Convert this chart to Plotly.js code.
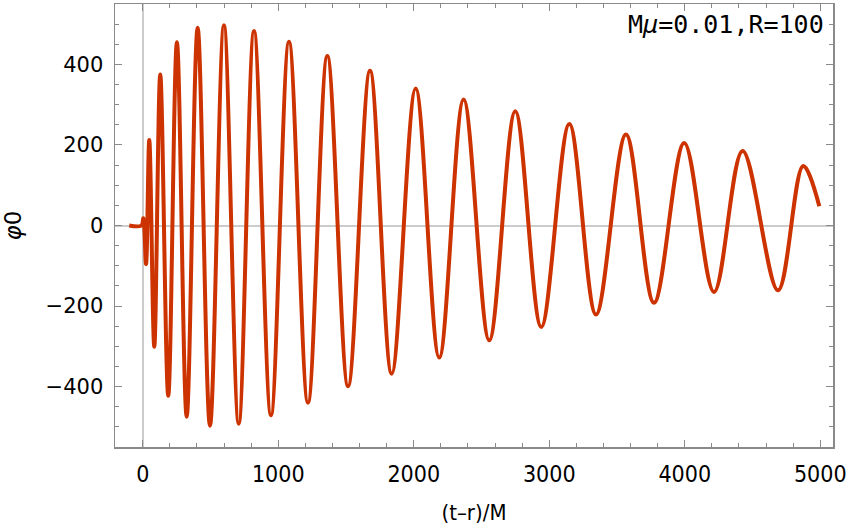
<!DOCTYPE html>
<html>
<head>
<meta charset="utf-8">
<script src="https://cdn.plot.ly/plotly-3.0.1.min.js"></script>
<style>html,body{margin:0;padding:0;background:#fff;}#chart{width:852px;height:530px;}</style>
</head>
<body>
<div id="chart"></div>
<script>
// Time (t-r)/M of the curve's turning points
const timeVals = [-100, -10, 4, 24, 48, 85, 129, 188, 252, 324, 405, 496, 599, 708, 821, 946, 1079, 1219, 1362, 1515, 1677, 1837, 2014, 2188, 2368, 2557, 2749, 2941, 3148, 3345, 3566, 3773, 3996, 4216, 4427, 4688, 4874, 4993];
// phi_0 values at those times
const phiVals = [0, 0, 18, -96, 212, -301, 375, -423, 455, -475, 491, -497, 497, -492, 483, -471, 456, -440, 421, -399, 384, -368, 340, -328, 313, -285, 284, -252, 252, -221, 226, -192, 205, -165, 185, -161, 148, 48];
const xTickVals = [0, 1000, 2000, 3000, 4000, 5000];
const yTickVals = [-400, -200, 0, 200, 400];
const labelText = "M<i>μ</i>=0.01,R=100";

const frame = '#8a8a8a';
const trace = {
  x: timeVals, y: phiVals, type: 'scatter', mode: 'lines',
  line: {color: '#cc3300', width: 4, shape: 'spline', smoothing: 1},
  hoverinfo: 'skip'
};
const axisCommon = {
  showgrid: false, zeroline: true, zerolinecolor: '#cccccc', zerolinewidth: 2,
  showline: true, mirror: 'allticks', linecolor: frame, linewidth: 1.5,
  ticks: 'inside', ticklen: 7, tickcolor: frame, tickwidth: 1,
  tickfont: {family: 'DejaVu Sans', size: 21, color: '#000'}
};
const layout = {
  width: 852, height: 530,
  margin: {l: 115, r: 19, t: 4, b: 83},
  paper_bgcolor: '#fff', plot_bgcolor: '#fff',
  showlegend: false,
  xaxis: Object.assign({}, axisCommon, {
    range: [-205, 5094], tickvals: xTickVals, ticklabelstandoff: 6,
    tickfont: {family: 'DejaVu Sans Condensed, DejaVu Sans', size: 23, color: '#000'},
    minor: {dtick: 200, tick0: 0, ticks: 'inside', ticklen: 4, tickcolor: frame, showgrid: false},
    title: {text: '(t–r)/M', font: {family: 'DejaVu Sans Condensed, DejaVu Sans', size: 22, color: '#000'}, standoff: 18}
  }),
  yaxis: Object.assign({}, axisCommon, {
    range: [-550, 550], tickvals: yTickVals, ticklabelstandoff: 6,
    minor: {dtick: 50, tick0: 0, ticks: 'inside', ticklen: 4, tickcolor: frame, showgrid: false},
    title: {text: '<i>φ</i>0', font: {family: 'DejaVu Sans', size: 23, color: '#000'}, standoff: 22}
  }),
  annotations: [{
    text: labelText, xref: 'paper', yref: 'paper', x: 0.99, y: 0.99,
    xanchor: 'right', yanchor: 'top', showarrow: false,
    font: {family: 'DejaVu Sans Mono', size: 25, color: '#000'}
  }]
};
Plotly.newPlot('chart', [trace], layout, {displayModeBar: false, staticPlot: true});
</script>
</body>
</html>
